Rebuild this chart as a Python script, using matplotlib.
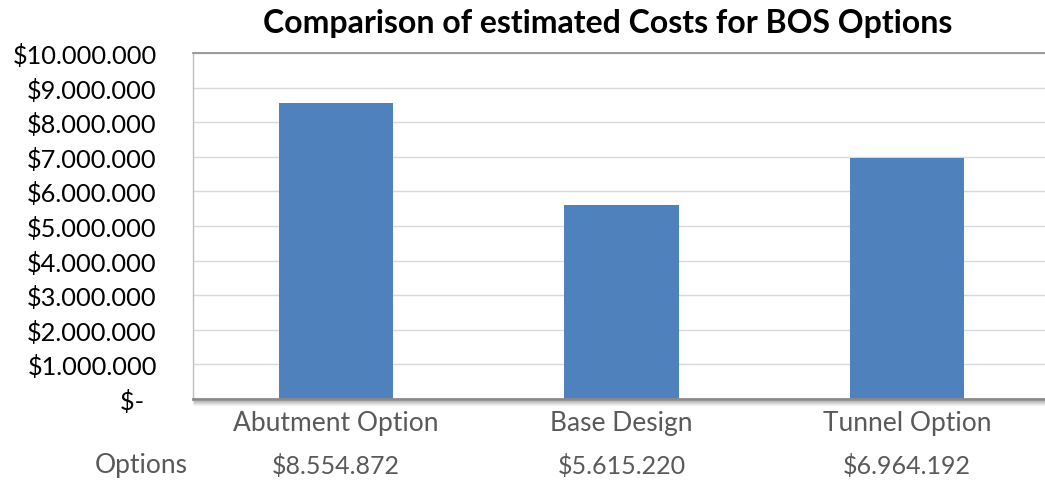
import matplotlib
matplotlib.use("Agg")
import matplotlib.pyplot as plt
import matplotlib.transforms as mtransforms
from matplotlib.ticker import FuncFormatter

categories = ["Abutment Option", "Base Design", "Tunnel Option"]
costs = [8554872, 5615220, 6964192]
table_row_label = "Options"
title = "Comparison of estimated Costs for BOS Options"
yticks = [0, 1000000, 2000000, 3000000, 4000000, 5000000,
          6000000, 7000000, 8000000, 9000000, 10000000]

plt.rcParams['font.family'] = ['Lato', 'DejaVu Sans']

W, H = 1045, 485
fig = plt.figure(figsize=(W / 100, H / 100), dpi=100)
ax = fig.add_axes([193 / W, 85 / H, 857 / W, 346 / H])

bar_color = "#4F81BD"
x = range(len(categories))
ax.bar(x, costs, width=0.4, color=bar_color, zorder=3)
ax.set_xlim(-0.5, len(categories) - 0.5)
ax.set_ylim(0, 10000000)
ax.set_yticks(yticks)


def money(v, pos=None):
    if v == 0:
        return "$-  "
    return "$" + f"{int(round(v)):,}".replace(",", ".")


ax.yaxis.set_major_formatter(FuncFormatter(money))
ax.tick_params(axis='y', length=0, pad=26, labelsize=18.3, labelcolor="#000000")
ax.set_xticks([])
ax.grid(axis='y', color="#d9d9d9", linewidth=1, zorder=0)

ax.spines['right'].set_visible(False)
ax.spines['top'].set_color("#8c8c8c")
ax.spines['top'].set_linewidth(1.2)
ax.spines['left'].set_color("#bfbfbf")
ax.spines['left'].set_linewidth(1)
ax.spines['bottom'].set_color("#8a8a8a")
ax.spines['bottom'].set_linewidth(2)
ax.spines['bottom'].set_zorder(5)

# shadow below the category axis
for i, a in enumerate([0.35, 0.25, 0.17, 0.1, 0.05]):
    tr = mtransforms.offset_copy(ax.transAxes, fig=fig, x=0, y=-(i + 1.5), units='dots')
    ax.plot([0, 1], [0, 0], transform=tr, color="#555555", alpha=a,
            linewidth=1, clip_on=False, zorder=4, solid_capstyle='butt')

# category labels and data table
blend = mtransforms.blended_transform_factory(ax.transData, ax.transAxes)
for i, (c, v) in enumerate(zip(categories, costs)):
    ax.text(i, -24 / 346, c, transform=blend, ha='center', va='center',
            fontsize=19, color="#595959")
    ax.text(i, -66 / 346, money(v), transform=blend, ha='center', va='center',
            fontsize=18, color="#595959")
fig.text(188 / W, 1 - 466 / H, table_row_label, ha='right', va='center',
         fontsize=19, color="#595959")

fig.text(608 / W, 1 - 24 / H, title, ha='center', va='center',
         fontsize=23, fontweight='bold', color="#000000")

fig.savefig("out.png", dpi=100)
